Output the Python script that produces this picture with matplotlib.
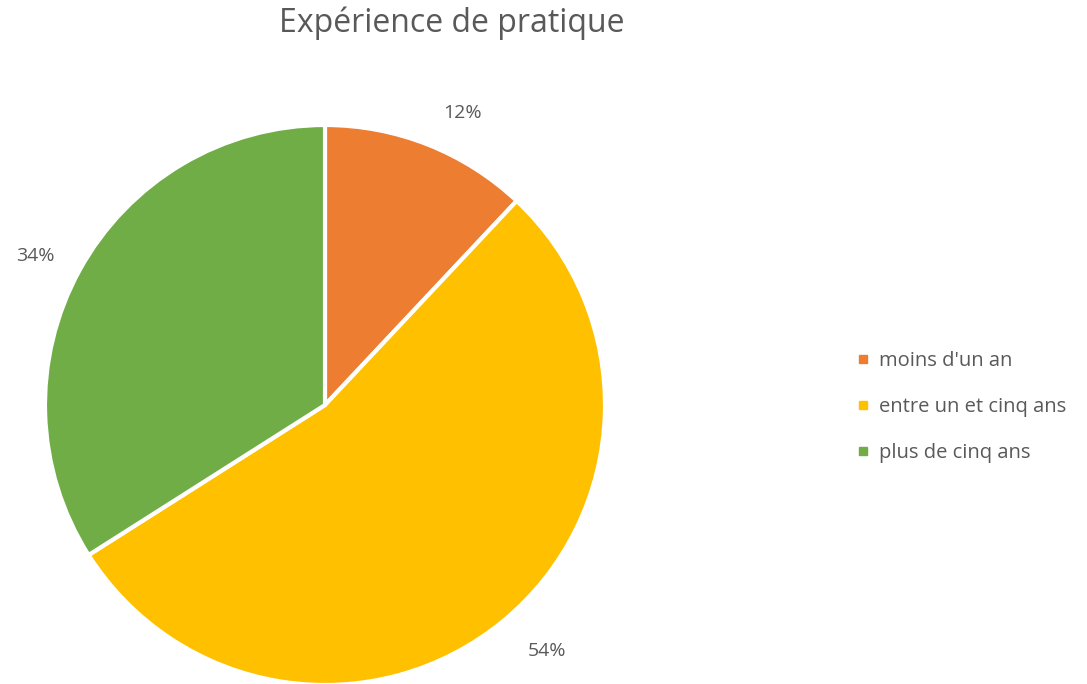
import matplotlib.pyplot as plt
from matplotlib.lines import Line2D

# Données
categories = ["moins d'un an", "entre un et cinq ans", "plus de cinq ans"]
valeurs = [12, 54, 34]
couleurs = ['#ED7D31', '#FFC000', '#70AD47']
# positions des étiquettes (en rayons, autour du centre)
pos_etiquettes = [(0.49, 1.043), (0.793, -0.879), (-1.036, 0.532)]

plt.rcParams['font.family'] = ['Open Sans', 'DejaVu Sans']
gris = '#595959'

fig = plt.figure(figsize=(10.87, 6.84), dpi=100)
W, H = 1087, 684
cx, cy, r = 325, 684 - 405, 280
ax = fig.add_axes([(cx - r) / W, (cy - r) / H, 2 * r / W, 2 * r / H])

wedges, texts, autotexts = ax.pie(
    valeurs, colors=couleurs, startangle=90, counterclock=False,
    autopct='%1.0f%%', pctdistance=1.16, radius=1,
    wedgeprops=dict(edgecolor='white', linewidth=3),
    textprops=dict(color=gris, fontsize=14))
for w in wedges:
    w.set_clip_on(False)
for t, p in zip(autotexts, pos_etiquettes):
    t.set_position(p)
ax.set_xlim(-1, 1)
ax.set_ylim(-1, 1)
ax.set_aspect('equal')
ax.axis('off')

fig.text(452 / W, 1 - 23 / H, 'Expérience de pratique', ha='center', va='center',
         fontsize=23, color=gris)

handles = [Line2D([], [], marker='s', linestyle='none', markersize=5.5,
                  markerfacecolor=c, markeredgecolor=c) for c in couleurs]
fig.legend(handles, categories, loc='center left',
           bbox_to_anchor=(835 / W, 1 - 407 / H), frameon=False,
           fontsize=14.5, labelcolor=gris, handletextpad=0.3,
           labelspacing=1.27, handlelength=1)

fig.savefig('out.png', dpi=100)
